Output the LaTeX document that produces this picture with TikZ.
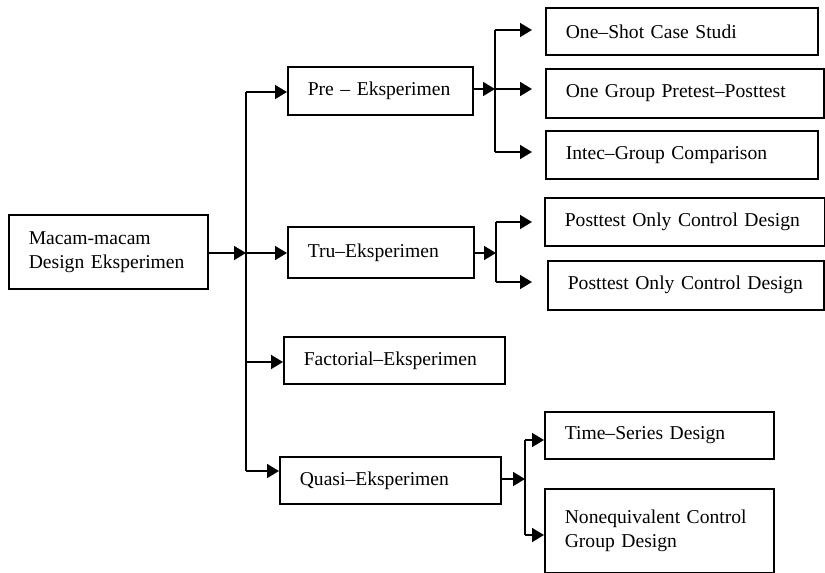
\documentclass[tikz,border=0pt]{standalone}
\usepackage{fontspec}
\setmainfont{Liberation Serif}
\usetikzlibrary{arrows.meta}
\begin{document}
\begin{tikzpicture}[x=1pt,y=-1pt,
  bx/.style={draw, line width=1.6pt, anchor=north west, inner xsep=20pt,
    inner ysep=0pt, align=left, font=\fontsize{19.6}{24}\selectfont},
  ln/.style={line width=1.6pt},
  arr/.style={ln, -{Triangle[length=12pt,width=14pt]}}]
\useasboundingbox (0,0) rectangle (825,573);

% boxes (each line kept whole in an \mbox)
\node[bx, text width=159pt, minimum width=199pt, minimum height=74pt] (main) at (8,214) {\mbox{Macam-macam}\\\mbox{Design Eksperimen}};
\node[bx, text width=145pt, minimum width=185pt, minimum height=48pt] (pre) at (287,66) {\mbox{Pre -- Eksperimen}};
\node[bx, text width=146pt, minimum width=186pt, minimum height=51pt] (tru) at (287,226) {\mbox{Tru--Eksperimen}};
\node[bx, text width=181pt, minimum width=221pt, minimum height=47pt] (fac) at (283,336) {\mbox{Factorial--Eksperimen}};
\node[bx, text width=181pt, minimum width=221pt, minimum height=47pt] (qua) at (279,456) {\mbox{Quasi--Eksperimen}};

\node[bx, text width=232pt, minimum width=272pt, minimum height=47pt] (s1) at (545,7) {\mbox{One--Shot Case Studi}};
\node[bx, text width=238pt, minimum width=278pt, minimum height=49pt] (s2) at (545,68) {\mbox{One Group Pretest--Posttest}};
\node[bx, text width=232pt, minimum width=272pt, minimum height=48pt] (s3) at (545,130) {\mbox{Intec--Group Comparison}};

\node[bx, text width=240pt, minimum width=280pt, minimum height=48pt] (t1) at (544,197) {\mbox{Posttest Only Control Design}};
\node[bx, text width=236pt, minimum width=276pt, minimum height=49pt] (t2) at (547,260) {\mbox{Posttest Only Control Design}};

\node[bx, text width=189pt, minimum width=229pt, minimum height=47pt] (q1) at (544,411) {\mbox{Time--Series Design}};
\node[bx, text width=189pt, minimum width=229pt, minimum height=84pt] (q2) at (544,488) {\mbox{Nonequivalent Control}\\\mbox{Group Design}};

% main bus
\coordinate (btop) at (246,92);
\coordinate (bm) at (246,253);
\coordinate (bf) at (246,362);
\coordinate (bbot) at (246,471);
\draw[ln] (btop) -- (bbot);
\draw[arr] (main.east |- bm) -- (bm);
\draw[arr] (btop) -- (btop -| pre.west);
\draw[arr] (bm) -- (bm -| tru.west);
\draw[arr] (bf) -- (bf -| fac.west);
\draw[arr] (bbot) -- (bbot -| qua.west);

% pre branch
\coordinate (pt) at (495,30);
\coordinate (pm) at (495,89);
\coordinate (pb) at (495,152);
\draw[ln] (pt) -- (pb);
\draw[arr] (pre.east |- pm) -- (pm);
\draw[arr, shorten >=13pt] (pt) -- (pt -| s1.west);
\draw[arr, shorten >=13pt] (pm) -- (pm -| s2.west);
\draw[arr, shorten >=13pt] (pb) -- (pb -| s3.west);

% tru branch
\coordinate (tt) at (496,222);
\coordinate (tm) at (496,253);
\coordinate (tb) at (496,282);
\draw[ln] (tt) -- (tb);
\draw[arr] (tru.east |- tm) -- (tm);
\draw[arr, shorten >=12pt] (tt) -- (tt -| t1.west);
\draw[arr, shorten >=15pt] (tb) -- (tb -| t2.west);

% quasi branch
\coordinate (qt) at (525,440);
\coordinate (qm) at (525,479);
\coordinate (qb) at (525,535);
\draw[ln] (qt) -- (qb);
\draw[arr] (qua.east |- qm) -- (qm);
\draw[arr] (qt) -- (qt -| q1.west);
\draw[arr] (qb) -- (qb -| q2.west);
\end{tikzpicture}
\end{document}
